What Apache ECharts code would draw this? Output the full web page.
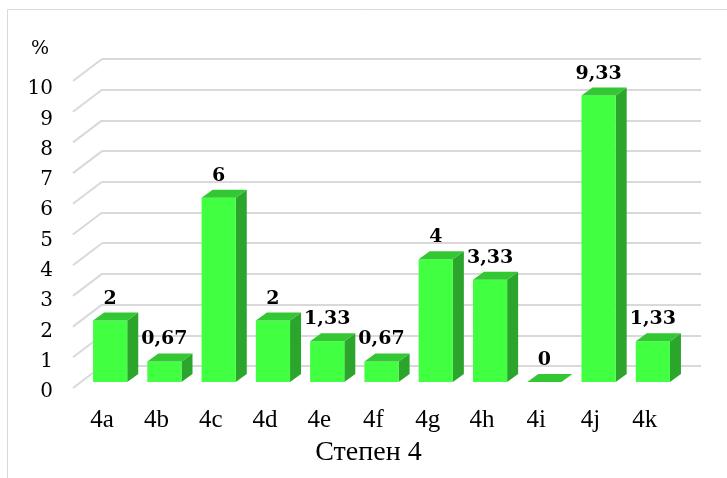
<!DOCTYPE html>
<html>
<head>
<meta charset="utf-8">
<script src="https://cdn.jsdelivr.net/npm/echarts@6/dist/echarts.min.js"></script>
<style>
  html, body { margin: 0; padding: 0; background: #fff; }
  #main { width: 727px; height: 478px; }
</style>
</head>
<body>
<div id="main"></div>
<script>
var categories = ['4a', '4b', '4c', '4d', '4e', '4f', '4g', '4h', '4i', '4j', '4k'];
var values = [2, 0.67, 6, 2, 1.33, 0.67, 4, 3.33, 0, 9.33, 1.33];
var yTicks = [0, 1, 2, 3, 4, 5, 6, 7, 8, 9, 10];

var chart = echarts.init(document.getElementById('main'));

var DX = 11, DY = 8;           // bar depth
var WX = 29, WY = 22;          // floor depth (wall -> front)

function fmt(v) {
  return String(v).replace('.', ',');
}

var option = {
  backgroundColor: '#ffffff',
  animation: false,
  title: {
    text: '%',
    left: 26,
    top: 35,
    textStyle: { fontFamily: 'DejaVu Serif', fontWeight: 'normal', fontSize: 19, color: '#000' }
  },
  graphic: [
    { type: 'line', shape: { x1: 7.5, y1: 9.5, x2: 727, y2: 9.5 }, style: { stroke: '#d9d9d9', lineWidth: 1 } },
    { type: 'line', shape: { x1: 7.5, y1: 9.5, x2: 7.5, y2: 478 }, style: { stroke: '#d9d9d9', lineWidth: 1 } }
  ],
  grid: [
    { left: 102, right: 26, top: 59, bottom: 112 },   // back wall
    { left: 83, right: 47, top: 75, bottom: 96 },     // bar fronts
    { left: 83, right: 47, top: 89, bottom: 86 }      // front edge (tick labels)
  ],
  xAxis: [
    { type: 'category', gridIndex: 0, data: categories, show: false },
    {
      type: 'category', gridIndex: 1, data: categories,
      axisLine: { show: false }, axisTick: { show: false },
      axisLabel: { margin: 26, padding: [0, 16, 0, 0], fontFamily: 'Liberation Serif', fontSize: 25, color: '#000' },
      name: 'Степен 4', nameLocation: 'middle', nameGap: 57,
      nameTextStyle: { fontFamily: 'Liberation Serif', fontSize: 28, color: '#000', padding: [0, 26, 0, 0] }
    },
    { type: 'category', gridIndex: 2, data: categories, show: false }
  ],
  yAxis: [
    {
      type: 'value', gridIndex: 0, min: 0, max: 10, interval: 1,
      axisLine: { show: false }, axisTick: { show: false }, axisLabel: { show: false },
      splitLine: { lineStyle: { color: '#d9d9d9', width: 2 } }
    },
    {
      type: 'value', gridIndex: 1, min: 0, max: 10, interval: 1, show: false
    },
    {
      type: 'value', gridIndex: 2, min: 0, max: 10, interval: 1,
      axisLine: { show: false }, axisTick: { show: false }, splitLine: { show: false },
      axisLabel: { margin: 30, fontFamily: 'DejaVu Serif', fontSize: 20, color: '#000' }
    }
  ],
  series: [
    {
      // side wall diagonals of the gridlines
      type: 'custom',
      xAxisIndex: 0, yAxisIndex: 0,
      silent: true,
      data: yTicks.map(function (t) { return [0, t]; }),
      renderItem: function (params, api) {
        var y = api.coord([0, api.value(1)])[1];
        var x = params.coordSys.x;
        return {
          type: 'line',
          shape: { x1: x, y1: y, x2: x - WX, y2: y + WY },
          style: { stroke: '#d9d9d9', lineWidth: 2 }
        };
      }
    },
    {
      type: 'custom',
      xAxisIndex: 1, yAxisIndex: 1,
      data: values.map(function (v, i) { return [i, v]; }),
      renderItem: function (params, api) {
        var v = api.value(1);
        var base = api.coord([api.value(0), 0]);
        var top = api.coord([api.value(0), v]);
        var w = api.size([1, 0])[0] * 0.63;
        var x0 = base[0] - w / 2, x1 = base[0] + w / 2;
        var yb = base[1], yt = top[1];
        var children = [];
        if (v > 0) {
          children.push({
            type: 'polygon',
            shape: { points: [[x1, yt], [x1 + DX, yt - DY], [x1 + DX, yb - DY], [x1, yb]] },
            style: { fill: '#2ca52c' }
          });
          children.push({
            type: 'rect',
            shape: { x: x0, y: yt, width: w, height: yb - yt },
            style: { fill: '#41ff41' }
          });
        }
        children.push({
          type: 'polygon',
          shape: { points: [[x0, yt], [x1, yt], [x1 + DX, yt - DY], [x0 + DX, yt - DY]] },
          style: { fill: '#33c833' }
        });
        children.push({
          type: 'text',
          style: {
            text: fmt(v), x: base[0], y: yt - 22,
            align: 'center', verticalAlign: 'middle',
            font: 'bold 19px "DejaVu Serif"', fill: '#000'
          }
        });
        return { type: 'group', children: children };
      }
    }
  ]
};

chart.setOption(option);
</script>
</body>
</html>
